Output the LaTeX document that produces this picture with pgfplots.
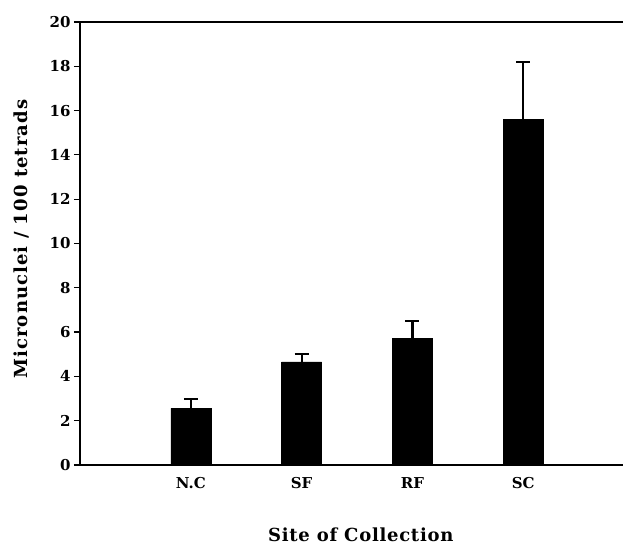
\documentclass[border=0pt]{standalone}
\usepackage{pgfplots}
\pgfplotsset{compat=1.18}
\usepackage{fontspec}
\setmainfont{DejaVu Serif}
\begin{document}
\begin{tikzpicture}[x=1pt,y=1pt]
\path[use as bounding box] (-80,-80) rectangle (543,465);
\begin{axis}[
  at={(0,0)}, anchor=south west,
  scale only axis,
  width=543pt, height=443pt,
  xmin=-1, xmax=3.9,
  ymin=0, ymax=20,
  axis x line*=box,
  axis y line*=left,
  axis line style={line width=1.8pt},
  ytick={0,2,...,20},
  xtick={0,1,2,3},
  xticklabels={N.C,SF,RF,SC},
  tick align=outside,
  xtick pos=bottom,
  ytick pos=left,
  major tick length=6pt,
  tick style={line width=1.2pt, black},
  x tick style={draw=none},
  /pgf/number format/assume math mode=true,
  ticklabel style={font=\fontsize{15}{17}\selectfont\bfseries},
  xticklabel style={yshift=-3pt},
  ylabel={Micronuclei / 100 tetrads},
  ylabel style={font=\fontsize{18}{20}\selectfont\bfseries\addfontfeature{LetterSpace=6}, at={(axis description cs:-0.107,0.51)}, anchor=center},
  xlabel={Site of Collection},
  xlabel style={font=\fontsize{18}{20}\selectfont\bfseries\addfontfeature{LetterSpace=4}, at={(axis description cs:0.517,-0.158)}, anchor=center},
  clip=false,
]
\addplot[ybar, bar width=40pt, fill=black, draw=black,
  error bars/.cd, y dir=plus, y explicit,
  error bar style={line width=2.2pt, black},
  error mark options={rotate=90, mark size=7pt, line width=2pt, black}]
  coordinates {
  (0,2.56) +- (0,0.41)
  (1,4.66) +- (0,0.34)
  (2,5.72) +- (0,0.79)
  (3,15.62) +- (0,2.56)
  };
\end{axis}
\end{tikzpicture}
\end{document}
